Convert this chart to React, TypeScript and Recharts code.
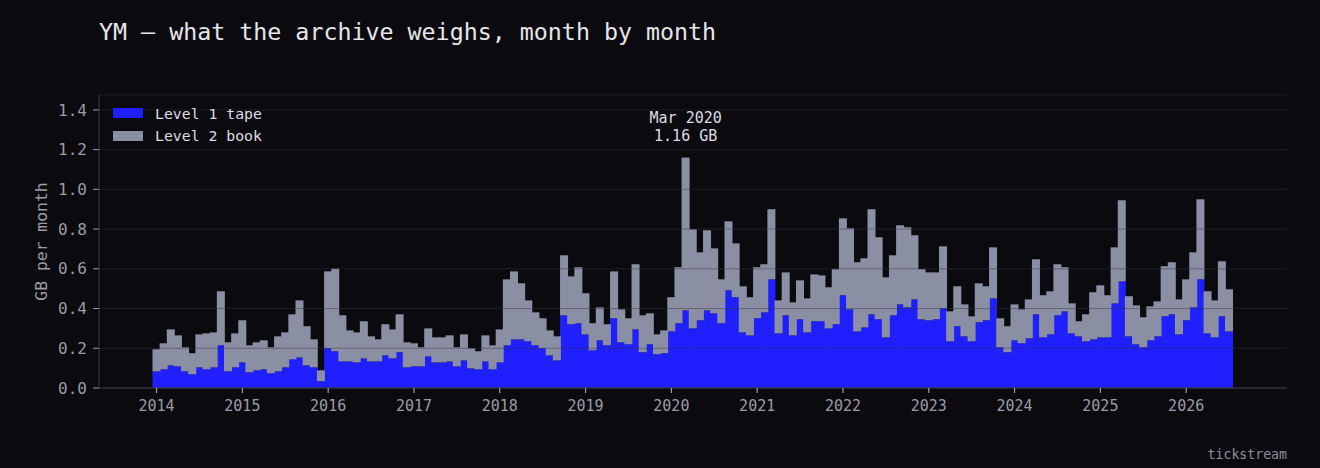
import { Bar, BarChart, CartesianGrid, ReferenceDot, XAxis, YAxis } from 'recharts';

const FONT = '"DejaVu Sans Mono", monospace';
const BG = '#0b0b0f';
const BLUE = '#1f1fff';
const GREY = '#8b8fa3';
const MUTED = '#9b9ba6';

const START_YEAR = 2014;
const MONTH_NAMES = ['Jan', 'Feb', 'Mar', 'Apr', 'May', 'Jun', 'Jul', 'Aug', 'Sep', 'Oct', 'Nov', 'Dec'];

// GB per month, Jan 2014 .. Jul 2026
const level1Tape = [
  0.084, 0.094, 0.114, 0.109, 0.084, 0.069, 0.104, 0.094, 0.104, 0.215, 0.084, 0.104,
  0.129, 0.079, 0.089, 0.094, 0.074, 0.084, 0.104, 0.144, 0.154, 0.114, 0.104, 0.034,
  0.2, 0.185, 0.134, 0.134, 0.129, 0.149, 0.134, 0.134, 0.164, 0.149, 0.18, 0.104,
  0.109, 0.109, 0.159, 0.129, 0.129, 0.134, 0.109, 0.139, 0.099, 0.094, 0.134, 0.094,
  0.129, 0.215, 0.245, 0.245, 0.235, 0.215, 0.2, 0.164, 0.139, 0.366, 0.321, 0.326,
  0.27, 0.19, 0.24, 0.215, 0.351, 0.23, 0.22, 0.295, 0.18, 0.22, 0.17, 0.175,
  0.285, 0.326, 0.391, 0.3, 0.341, 0.391, 0.376, 0.326, 0.492, 0.457, 0.28, 0.265,
  0.351, 0.381, 0.547, 0.275, 0.366, 0.265, 0.346, 0.28, 0.336, 0.336, 0.3, 0.321,
  0.467, 0.396, 0.285, 0.305, 0.371, 0.346, 0.255, 0.366, 0.421, 0.406, 0.446, 0.346,
  0.341, 0.346, 0.401, 0.235, 0.311, 0.26, 0.235, 0.331, 0.341, 0.451, 0.205, 0.18,
  0.24, 0.225, 0.25, 0.371, 0.255, 0.27, 0.366, 0.386, 0.275, 0.26, 0.235, 0.245,
  0.255, 0.255, 0.426, 0.537, 0.26, 0.22, 0.205, 0.24, 0.26, 0.361, 0.371, 0.27,
  0.341, 0.406, 0.547, 0.275, 0.255, 0.361, 0.285,
];

const level2Book = [
  0.111, 0.131, 0.181, 0.156, 0.121, 0.106, 0.166, 0.181, 0.176, 0.272, 0.146, 0.171,
  0.212, 0.136, 0.141, 0.146, 0.131, 0.176, 0.176, 0.227, 0.287, 0.197, 0.141, 0.055,
  0.387, 0.416, 0.232, 0.156, 0.151, 0.187, 0.126, 0.111, 0.157, 0.146, 0.191, 0.126,
  0.116, 0.096, 0.141, 0.126, 0.126, 0.131, 0.096, 0.131, 0.101, 0.091, 0.131, 0.121,
  0.166, 0.332, 0.342, 0.282, 0.206, 0.166, 0.151, 0.126, 0.121, 0.302, 0.241, 0.282,
  0.207, 0.136, 0.166, 0.106, 0.236, 0.166, 0.131, 0.328, 0.186, 0.156, 0.1, 0.115,
  0.172, 0.282, 0.769, 0.499, 0.342, 0.403, 0.327, 0.221, 0.347, 0.271, 0.232, 0.192,
  0.257, 0.242, 0.353, 0.166, 0.216, 0.166, 0.196, 0.171, 0.236, 0.231, 0.207, 0.277,
  0.387, 0.408, 0.348, 0.348, 0.529, 0.413, 0.302, 0.302, 0.398, 0.403, 0.323, 0.252,
  0.241, 0.236, 0.312, 0.151, 0.201, 0.161, 0.126, 0.196, 0.171, 0.257, 0.146, 0.131,
  0.181, 0.171, 0.196, 0.277, 0.212, 0.217, 0.257, 0.222, 0.151, 0.076, 0.136, 0.237,
  0.262, 0.212, 0.282, 0.408, 0.202, 0.196, 0.151, 0.171, 0.176, 0.252, 0.262, 0.176,
  0.206, 0.277, 0.403, 0.212, 0.186, 0.277, 0.212,
];

const yearTicks = [2014, 2015, 2016, 2017, 2018, 2019, 2020, 2021, 2022, 2023, 2024, 2025, 2026];
const yTicks = [0, 0.2, 0.4, 0.6, 0.8, 1.0, 1.2, 1.4];

const series = [
  { key: 'level1', name: 'Level 1 tape', color: BLUE },
  { key: 'level2', name: 'Level 2 book', color: GREY },
];

const rows = level1Tape.map((v, i) => ({ idx: i, level1: v, level2: level2Book[i] }));
const xTicks = yearTicks.map((y) => (y - START_YEAR) * 12);

let peakIdx = 0;
rows.forEach((r, i) => {
  if (r.level1 + r.level2 > rows[peakIdx].level1 + rows[peakIdx].level2) peakIdx = i;
});
const peakTotal = rows[peakIdx].level1 + rows[peakIdx].level2;
const peakMonth = `${MONTH_NAMES[peakIdx % 12]} ${START_YEAR + Math.floor(peakIdx / 12)}`;

// recharts truncates the bar width to whole pixels, so widen a touch to close the seams
function FlushBar(props: any) {
  const { x, y, width, height, fill } = props;
  if (!height || height <= 0) return null;
  return <rect x={x - 0.5} y={y} width={width + 1} height={height} fill={fill} />;
}

function PeakLabel(props: any) {
  const vb = props.viewBox || {};
  const cx = (vb.x ?? 0) + (vb.width ?? 0) / 2;
  const cy = (vb.y ?? 0) + (vb.height ?? 0) / 2;
  return (
    <g fontFamily={FONT} fontSize={15} fill="#dcdce0" textAnchor="middle">
      <text x={cx} y={cy - 40} dominantBaseline="central">{peakMonth}</text>
      <text x={cx} y={cy - 22} dominantBaseline="central">{`${peakTotal.toFixed(2)} GB`}</text>
    </g>
  );
}

function YLabel(props: any) {
  const vb = props.viewBox || { y: 0, height: 0 };
  const cy = vb.y + vb.height / 2;
  return (
    <text
      x={41}
      y={cy}
      transform={`rotate(-90 41 ${cy})`}
      textAnchor="middle"
      dominantBaseline="central"
      fill={MUTED}
      fontSize={16.4}
      fontFamily={FONT}
    >
      GB per month
    </text>
  );
}

export default function App() {
  return (
    <div style={{ position: 'fixed', left: 0, top: 0, width: 1320, height: 468, background: BG, overflow: 'hidden' }}>
      <div
        style={{
          position: 'absolute',
          left: 99,
          top: 17.5,
          fontFamily: FONT,
          fontSize: 23.3,
          lineHeight: '28px',
          color: '#e6e6ea',
          whiteSpace: 'pre',
        }}
      >
        YM — what the archive weighs, month by month
      </div>
      <div style={{ position: 'absolute', left: 0, top: 0 }}>
        <BarChart
          width={1320}
          height={468}
          data={rows}
          margin={{ top: 95, right: 33, bottom: 0, left: 0 }}
          barCategoryGap={0}
          barGap={0}
        >
          <XAxis
            dataKey="idx"
            type="number"
            domain={[-8.05, 158.1]}
            ticks={xTicks}
            interval={0}
            tickFormatter={(v: number) => String(START_YEAR + v / 12)}
            height={80}
            tickSize={5}
            tickMargin={7}
            axisLine={{ stroke: '#3a3a44' }}
            tickLine={{ stroke: '#b8b8c0' }}
            tick={{ fill: MUTED, fontSize: 15, fontFamily: FONT }}
          />
          <YAxis
            type="number"
            domain={[0, 1.475]}
            ticks={yTicks}
            interval={0}
            width={99}
            tickFormatter={(v: number) => v.toFixed(1)}
            tickSize={6}
            tickMargin={6}
            axisLine={{ stroke: '#3a3a44' }}
            tickLine={{ stroke: MUTED }}
            tick={{ fill: MUTED, fontSize: 16, fontFamily: FONT }}
            label={YLabel}
          />
          {series.map((s) => (
            <Bar
              key={s.key}
              dataKey={s.key}
              name={s.name}
              stackId="gb"
              fill={s.color}
              shape={FlushBar}
              isAnimationActive={false}
            />
          ))}
          <CartesianGrid vertical={false} stroke="#36363c" strokeOpacity={0.45} zIndex={350} />
          <ReferenceDot x={peakIdx} y={peakTotal} r={0} fill="none" stroke="none" label={PeakLabel} />
        </BarChart>
      </div>
      <div
        style={{
          position: 'absolute',
          left: 113,
          top: 101.75,
          fontFamily: FONT,
          fontSize: 14.8,
          color: '#dcdce0',
        }}
      >
        {series.map((s) => (
          <div key={s.key} style={{ display: 'flex', alignItems: 'center', height: 22.5, whiteSpace: 'pre' }}>
            <span style={{ width: 30, height: 10, background: s.color, marginRight: 12 }} />
            {s.name}
          </div>
        ))}
      </div>
      <div
        style={{
          position: 'absolute',
          right: 33,
          top: 446.5,
          fontFamily: FONT,
          fontSize: 13.2,
          lineHeight: '16px',
          color: '#8e8e99',
        }}
      >
        tickstream
      </div>
    </div>
  );
}
